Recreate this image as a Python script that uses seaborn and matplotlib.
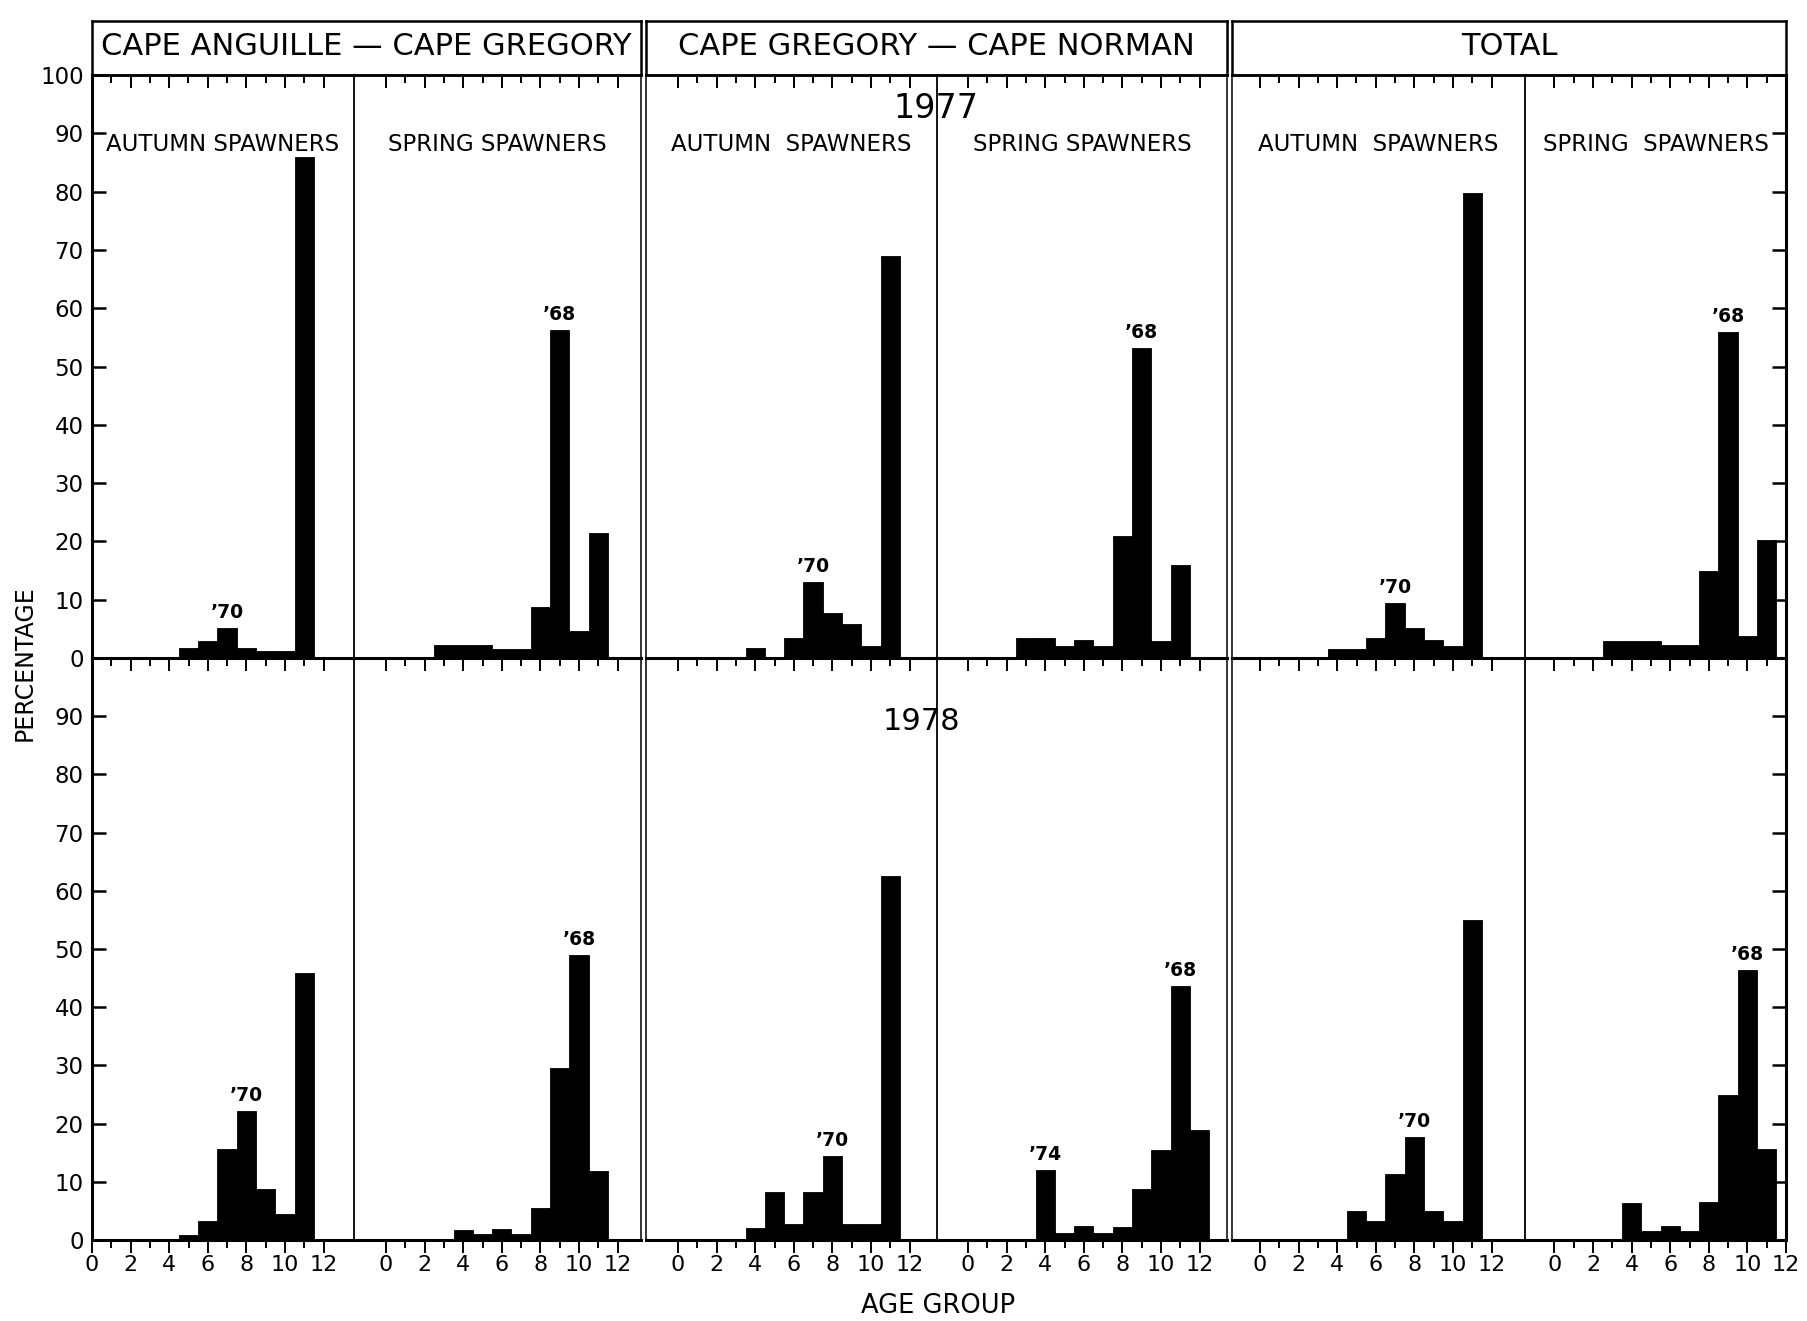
import matplotlib
matplotlib.use("Agg")
import matplotlib.pyplot as plt
import seaborn as sns
from matplotlib.ticker import FixedLocator, NullFormatter

ages = list(range(13))

# 1977 percentages by age group
ca_autumn_77 = [0, 0, 0, 0, 0, 1.7, 3.0, 5.1, 1.8, 1.2, 1.2, 86.0, 0]
ca_spring_77 = [0, 0, 0, 2.3, 2.3, 2.3, 1.5, 1.5, 8.8, 56.3, 4.7, 21.5, 0]
cn_autumn_77 = [0, 0, 0, 0, 1.8, 0, 3.4, 13.0, 7.8, 5.8, 2.0, 69.0, 0]
cn_spring_77 = [0, 0, 0, 3.5, 3.5, 2.0, 3.1, 2.0, 21.0, 53.2, 3.0, 16.0, 0]
tot_autumn_77 = [0, 0, 0, 0, 1.6, 1.6, 3.5, 9.4, 5.1, 3.1, 2.0, 79.7, 0]
tot_spring_77 = [0, 0, 0, 3.0, 3.0, 3.0, 2.2, 2.2, 15.0, 56.0, 3.7, 20.2, 0]

# 1978
ca_autumn_78 = [0, 0, 0, 0, 0, 0.9, 3.2, 15.6, 22.2, 8.8, 4.5, 45.8, 0]
ca_spring_78 = [0, 0, 0, 0, 1.8, 1.1, 1.9, 1.1, 5.5, 29.6, 49.0, 11.9, 0]
cn_autumn_78 = [0, 0, 0, 0, 2.0, 8.2, 2.7, 8.2, 14.4, 2.7, 2.7, 62.5, 0]
cn_spring_78 = [0, 0, 0, 0, 12.0, 1.2, 2.4, 1.2, 2.2, 8.8, 15.4, 43.6, 18.9]
tot_autumn_78 = [0, 0, 0, 0, 0, 5.0, 3.2, 11.3, 17.7, 5.0, 3.3, 55.0, 0]
tot_spring_78 = [0, 0, 0, 0, 6.3, 1.6, 2.4, 1.6, 6.5, 24.9, 46.4, 15.7, 0]

# year-class labels: (age group, text)
year_class_77 = [[(7, "’70")], [(9, "’68")], [(7, "’70")], [(9, "’68")], [(7, "’70")], [(9, "’68")]]
year_class_78 = [[(8, "’70")], [(10, "’68")], [(8, "’70")], [(4, "’74"), (11, "’68")],
                 [(8, "’70")], [(10, "’68")]]

regions = ["CAPE ANGUILLE — CAPE GREGORY", "CAPE GREGORY — CAPE NORMAN", "TOTAL"]
subtitles = ["AUTUMN SPAWNERS", "SPRING SPAWNERS", "AUTUMN  SPAWNERS",
             "SPRING SPAWNERS", "AUTUMN  SPAWNERS", "SPRING  SPAWNERS"]
years = ["1977", "1978"]

data_77 = [ca_autumn_77, ca_spring_77, cn_autumn_77, cn_spring_77, tot_autumn_77, tot_spring_77]
data_78 = [ca_autumn_78, ca_spring_78, cn_autumn_78, cn_spring_78, tot_autumn_78, tot_spring_78]

# layout in pixels
W, H = 1807, 1321
UNIT = 19.3  # px per age group
cols = [(92, 354, 92), (354, 641, 386), (646, 937, 678),
        (937, 1227, 968), (1232, 1525, 1260), (1525, 1786, 1554.4)]
rows_px = [(75, 658), (658, 1240)]
groups = [(92, 641), (646, 1227), (1232, 1786)]
HEAD = (21, 75)


def box(x0, x1, y0, y1):
    return [x0 / W, 1 - y1 / H, (x1 - x0) / W, (y1 - y0) / H]


sns.set_theme(style="ticks", rc={"axes.edgecolor": "black", "xtick.color": "black",
                                 "ytick.color": "black", "text.color": "black",
                                 "axes.labelcolor": "black"})
plt.rcParams["font.family"] = ["DejaVu Sans"]

fig = plt.figure(figsize=(W / 100, H / 100), dpi=100)
fig.patch.set_facecolor("white")

# header boxes
for (gx0, gx1), name in zip(groups, regions):
    hax = fig.add_axes(box(gx0, gx1, *HEAD))
    hax.set_xticks([])
    hax.set_yticks([])
    for s in hax.spines.values():
        s.set_linewidth(1.8)
    hax.text(0.5, 0.52, name, ha="center", va="center", fontsize=22,
             transform=hax.transAxes)

for r, (data, marks) in enumerate([(data_77, year_class_77), (data_78, year_class_78)]):
    y0, y1 = rows_px[r]
    for c, (x0, x1, zero) in enumerate(cols):
        ax = fig.add_axes(box(x0, x1, y0, y1))
        ax.patch.set_visible(False)
        vals = data[c]
        sns.barplot(x=ages, y=vals, native_scale=True, width=1, orient="x",
                    color="black", saturation=1, errorbar=None,
                    edgecolor="black", linewidth=0.6, ax=ax)
        ax.set_xlim((x0 - zero) / UNIT, (x1 - zero) / UNIT)
        ax.set_ylim(0, 100)
        ax.set_xlabel("")
        ax.set_ylabel("")

        for age, lab in marks[c]:
            ax.text(age, vals[age] + 1.0, lab, ha="center", va="bottom",
                    fontsize=13.5, fontweight="bold")

        # x ticks, all pointing down
        ax.xaxis.set_major_locator(FixedLocator(range(0, 13, 2)))
        ax.xaxis.set_minor_locator(FixedLocator(range(1, 13, 2)))
        ax.tick_params(axis="x", which="major", direction="out", length=9.5, width=1.4,
                       pad=1, labelsize=16, bottom=True, top=False,
                       labelbottom=(r == 1))
        ax.tick_params(axis="x", which="minor", direction="out", length=5.5, width=1.4,
                       bottom=True, top=False)
        if r == 0:
            sec = ax.secondary_xaxis("top")
            sec.xaxis.set_major_locator(FixedLocator(range(0, 13, 2)))
            sec.xaxis.set_minor_locator(FixedLocator(range(1, 13, 2)))
            sec.xaxis.set_major_formatter(NullFormatter())
            sec.tick_params(axis="x", which="major", direction="in", length=9.5, width=1.4)
            sec.tick_params(axis="x", which="minor", direction="in", length=5.5, width=1.4)
            sec.spines["top"].set_visible(False)
            ax.text(0.5, 88, subtitles[c], ha="center", va="center",
                    fontsize=16.5, transform=ax.get_yaxis_transform())

        # y ticks on the outer frame only
        yt = list(range(0, 101 if r == 0 else 91, 10))
        if c == 0:
            ax.set_yticks(yt)
            ax.tick_params(axis="y", direction="in", length=10, width=1.8, pad=6,
                           labelsize=16.5, left=True, right=False, labelleft=True)
        elif c == 5:
            ax.set_yticks(yt)
            ax.tick_params(axis="y", direction="in", length=10, width=1.8,
                           left=False, right=True, labelleft=False, labelright=False)
        else:
            ax.set_yticks([])

        for s in ax.spines.values():
            s.set_linewidth(1.3)
        ax.spines["bottom"].set_linewidth(2.2)
        ax.spines["top"].set_linewidth(1.8)
        if c == 0:
            ax.spines["left"].set_linewidth(2.2)
        if c == 5:
            ax.spines["right"].set_linewidth(2.2)
        if c in (1, 3, 5):
            ax.spines["left"].set_visible(False)
        if c in (1, 3):
            ax.spines["right"].set_linewidth(1.1)
        if c in (2, 4):
            ax.spines["left"].set_linewidth(1.1)
        if r == 1:
            ax.spines["top"].set_visible(False)

fig.text(936 / W, 1 - 108 / H, years[0], ha="center", va="center", fontsize=24)
fig.text(921 / W, 1 - 721 / H, years[1], ha="center", va="center", fontsize=22)
fig.text(25 / W, 1 - 663 / H, "PERCENTAGE", rotation=90, ha="center", va="center",
         fontsize=17)
fig.text(938 / W, 1 - 1306 / H, "AGE GROUP", ha="center", va="center", fontsize=18.5)

fig.savefig("out.png", dpi=100)
